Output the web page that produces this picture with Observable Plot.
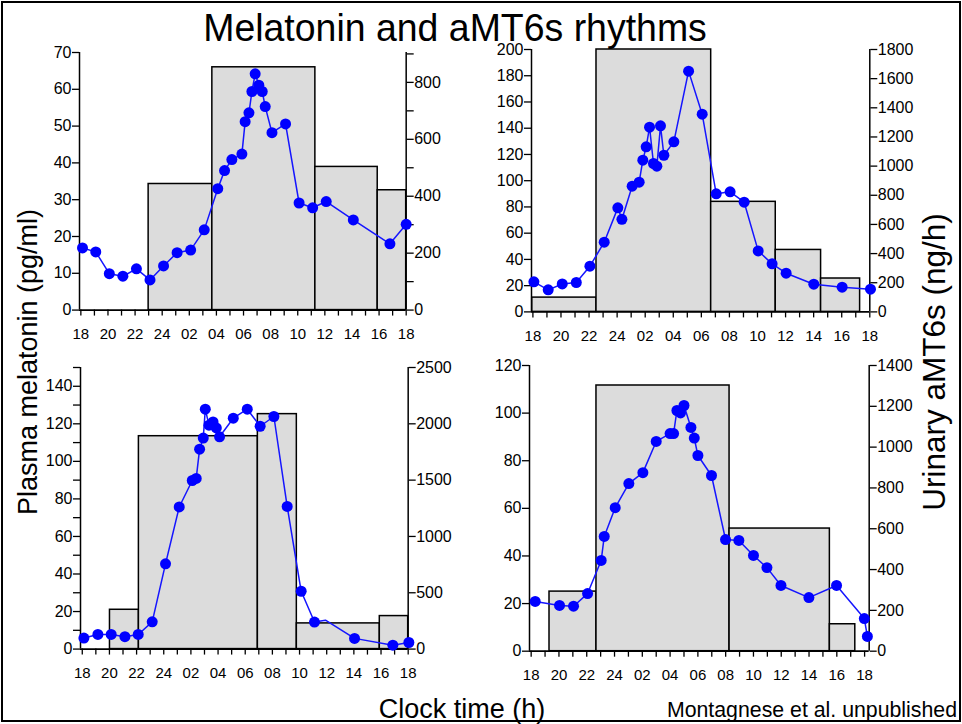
<!DOCTYPE html>
<html>
<head>
<meta charset="utf-8">
<script src="https://cdn.jsdelivr.net/npm/d3@7"></script>
<script src="https://cdn.jsdelivr.net/npm/@observablehq/plot@0.6"></script>
<style>
  html, body { margin: 0; padding: 0; background: white; }
  #wrap { position: relative; width: 962px; height: 724px; overflow: hidden; font-family: "Liberation Sans", Arial, sans-serif; color: black; }
  #border { position: absolute; left: 1px; top: 1px; width: 956px; height: 717px; border: 2px solid black; }
  .txt { position: absolute; white-space: nowrap; line-height: 1; }
</style>
</head>
<body>
<div id="wrap">
  <div id="border"></div>
</div>
<script>
// ---------- DATA ----------
// Clock time is expressed as hours from 18:00 (18 .. 42 = 18:00 next day)
const hourTicks = d3.range(18, 43);

// Top-left panel
const tlTime = [18.12,19.1,20.1,21.1,22.1,23.1,24.1,25.1,26.1,27.1,28.1,28.6,29.14,29.88,30.12,30.4,30.62,30.86,31.13,31.38,31.6,32.1,33.1,34.1,35.1,36.1,38.1,40.8,42.0];
const tlMelatonin = [16.9,15.8,9.9,9.2,11.2,8.2,12.0,15.6,16.3,21.8,33.0,37.9,40.9,42.4,51.2,53.6,59.4,64.2,61.1,59.4,55.3,48.2,50.6,29.1,27.8,29.5,24.5,18.0,23.3];
const tlUrineStart = [23.0, 27.7, 35.3, 39.9];
const tlUrineEnd   = [27.7, 35.3, 39.9, 42.0];
const tlAMT6s      = [443, 853, 503, 421];

// Top-right panel
const trTime = [18.07,19.09,20.09,21.09,22.06,23.08,24.05,24.34,25.07,25.57,25.83,26.07,26.31,26.59,26.83,27.09,27.33,28.04,29.09,30.06,31.06,32.05,33.05,34.05,35.04,36.04,38.01,40.03,42.05];
const trMelatonin = [22.9,16.8,21.3,22.4,34.8,53.1,79.3,70.6,95.8,98.9,115.6,125.8,140.8,113.1,111.1,141.8,119.4,129.6,183.5,150.7,90.0,91.5,83.6,46.5,36.6,29.5,21.1,18.8,17.3];
const trUrineStart = [17.95, 22.53, 30.7, 35.3, 38.53];
const trUrineEnd   = [22.53, 30.7, 35.3, 38.53, 41.31];
const trAMT6s      = [98, 1800, 755, 425, 229];

// Bottom-left panel
const blTime = [18.12,19.15,20.13,21.14,22.12,23.15,24.13,25.14,26.10,26.39,26.64,26.91,27.06,27.33,27.63,27.87,28.11,29.12,30.15,31.1,32.11,33.09,34.12,35.1,35.91,38.05,40.87,42.05];
const blMelatonin = [5.85,7.8,7.8,6.6,7.8,14.5,45.4,75.7,89.8,90.9,106.5,112.4,127.8,119.3,121.0,117.8,113.1,123.0,127.8,118.7,123.9,76.0,30.8,14.4,15.4,5.7,2.1,3.5];
const blNoMarker = [24];
const blUrineStart = [20.04, 22.17, 30.93, 33.8, 39.91];
const blUrineEnd   = [22.17, 30.93, 33.8, 39.91, 42.0];
const blAMT6s      = [349, 1890, 2086, 228, 293];

// Bottom-right panel
const brTime = [18.29,20.04,21.05,22.06,23.04,23.26,24.05,25.03,26.04,27.0,28.0,28.25,28.49,28.75,29.0,29.5,29.74,30.0,30.98,31.99,32.95,34.0,34.97,35.98,37.99,39.98,41.98,42.2];
const brMelatonin = [20.9,19.2,18.9,24.2,38.1,48.2,60.3,70.4,75.0,88.1,91.4,91.4,101.1,100.1,103.2,94.0,89.5,82.2,73.8,46.9,46.5,40.2,35.1,27.6,22.5,27.6,13.7,6.2];
const brUrineStart = [19.32, 22.7, 32.28, 39.5];
const brUrineEnd   = [22.7, 32.28, 39.5, 41.33];
const brAMT6s      = [292, 1302, 601, 132];

// Text
const titleText = "Melatonin and aMT6s rhythms";
const leftLabel = "Plasma melatonin (pg/ml)";
const rightLabel = "Urinary aMT6s (ng/h)";
const xLabel = "Clock time (h)";
const credit = "Montagnese et al. unpublished";

// ---------- DRAW ----------
const wrap = document.getElementById("wrap");
const FONT = "'Liberation Sans', Arial, sans-serif";

function hourLabel(h) {
  if (h % 2 !== 0) return "";
  if (h === 24) return "24";
  return String(h % 24).padStart(2, "0");
}

function panel(cfg) {
  const { time, mel, noMarker = [], uStart, uEnd, uVal, yMax, yTickStep, yLabelStep,
          rMax, rTickStep, rLabelStep, frame, xDomain } = cfg;
  const k = yMax / rMax;
  const pts = time.map((t, i) => ({ t, v: mel[i], marker: !noMarker.includes(i) }));
  const bars = uStart.map((s, i) => ({ x1: s, x2: uEnd[i], y: uVal[i] * k }));
  const ML = 50, MR = 60, MT = 10, MB = 45;
  const W = frame.right - frame.left + ML + MR;
  const H = frame.bottom - frame.top + MT + MB;
  const yTicks = d3.range(0, yMax + 1e-6, yTickStep);
  const rTicks = d3.range(0, rMax + 1e-6, rTickStep).map(d => d * k);
  const svg = Plot.plot({
    width: W, height: H,
    marginLeft: ML, marginRight: MR, marginTop: MT, marginBottom: MB,
    style: { background: "transparent", fontFamily: FONT, fontSize: "15px", color: "black", overflow: "visible" },
    x: { domain: xDomain },
    y: { domain: [0, yMax] },
    marks: [
      Plot.rect(bars, { x1: "x1", x2: "x2", y1: 0, y2: "y", fill: "#dcdcdc", stroke: "black", strokeWidth: 1.5 }),
      Plot.ruleX([xDomain[0]], { stroke: "black", strokeWidth: 1.5 }),
      Plot.ruleX([xDomain[1]], { stroke: "black", strokeWidth: 1.5 }),
      Plot.ruleY([0], { stroke: "black", strokeWidth: 1.8 }),
      Plot.axisY(yTicks, { anchor: "left", tickSize: 7, tickPadding: 1, strokeWidth: 1.3, label: null, fontSize: 16,
        tickFormat: d => (Math.round(d) % yLabelStep === 0 ? String(Math.round(d)) : "") }),
      Plot.axisY(rTicks, { anchor: "right", tickSize: 7, tickPadding: 1, strokeWidth: 1.3, label: null, fontSize: 16,
        tickFormat: d => { const r = Math.round(d / k); return r % rLabelStep === 0 ? String(r) : ""; } }),
      Plot.axisX(hourTicks, { anchor: "bottom", tickSize: 6, tickPadding: 12, strokeWidth: 1.3, label: null, fontSize: 15,
        tickFormat: hourLabel }),
      Plot.line(pts, { x: "t", y: "v", stroke: "#1515ff", strokeWidth: 1.5 }),
      Plot.dot(pts.filter(d => d.marker), { x: "t", y: "v", r: 5.5, fill: "#0000ff", stroke: "none" })
    ]
  });
  svg.style.position = "absolute";
  svg.style.left = (frame.left - ML) + "px";
  svg.style.top = (frame.top - MT) + "px";
  svg.style.maxWidth = "none";
  wrap.appendChild(svg);
}

panel({ time: tlTime, mel: tlMelatonin, uStart: tlUrineStart, uEnd: tlUrineEnd, uVal: tlAMT6s,
  yMax: 70, yTickStep: 10, yLabelStep: 10, rMax: 905, rTickStep: 100, rLabelStep: 200,
  frame: { left: 79.3, right: 406, top: 51.7, bottom: 309.3 }, xDomain: [17.9, 42] });
panel({ time: trTime, mel: trMelatonin, uStart: trUrineStart, uEnd: trUrineEnd, uVal: trAMT6s,
  yMax: 200, yTickStep: 20, yLabelStep: 20, rMax: 1800, rTickStep: 200, rLabelStep: 200,
  frame: { left: 531, right: 869.3, top: 49.3, bottom: 311.7 }, xDomain: [17.9, 42] });
panel({ time: blTime, mel: blMelatonin, noMarker: blNoMarker, uStart: blUrineStart, uEnd: blUrineEnd, uVal: blAMT6s,
  yMax: 150, yTickStep: 10, yLabelStep: 20, rMax: 2500, rTickStep: 500, rLabelStep: 500,
  frame: { left: 80, right: 407.7, top: 366.7, bottom: 648.3 }, xDomain: [17.87, 42] });
panel({ time: brTime, mel: brMelatonin, uStart: brUrineStart, uEnd: brUrineEnd, uVal: brAMT6s,
  yMax: 120, yTickStep: 20, yLabelStep: 20, rMax: 1400, rTickStep: 200, rLabelStep: 200,
  frame: { left: 529.3, right: 869, top: 365, bottom: 650.7 }, xDomain: [17.88, 42.33] });

function addText(text, css) {
  const d = document.createElement("div");
  d.className = "txt";
  d.textContent = text;
  Object.assign(d.style, css);
  wrap.appendChild(d);
  return d;
}
addText(titleText, { left: "455px", top: "15.5px", fontSize: "39px", lineHeight: "0.6", transform: "translateX(-50%) scaleX(0.96)" });
addText(leftLabel, { left: "28px", top: "362px", fontSize: "27px", transform: "translate(-50%,-50%) rotate(-90deg)" });
addText(rightLabel, { left: "935px", top: "362px", fontSize: "31.5px", transform: "translate(-50%,-50%) rotate(-90deg)" });
addText(xLabel, { left: "462px", top: "696px", fontSize: "27px", transform: "translateX(-50%)" });
addText(credit, { right: "5px", top: "700px", fontSize: "21.3px" });
</script>
</body>
</html>
